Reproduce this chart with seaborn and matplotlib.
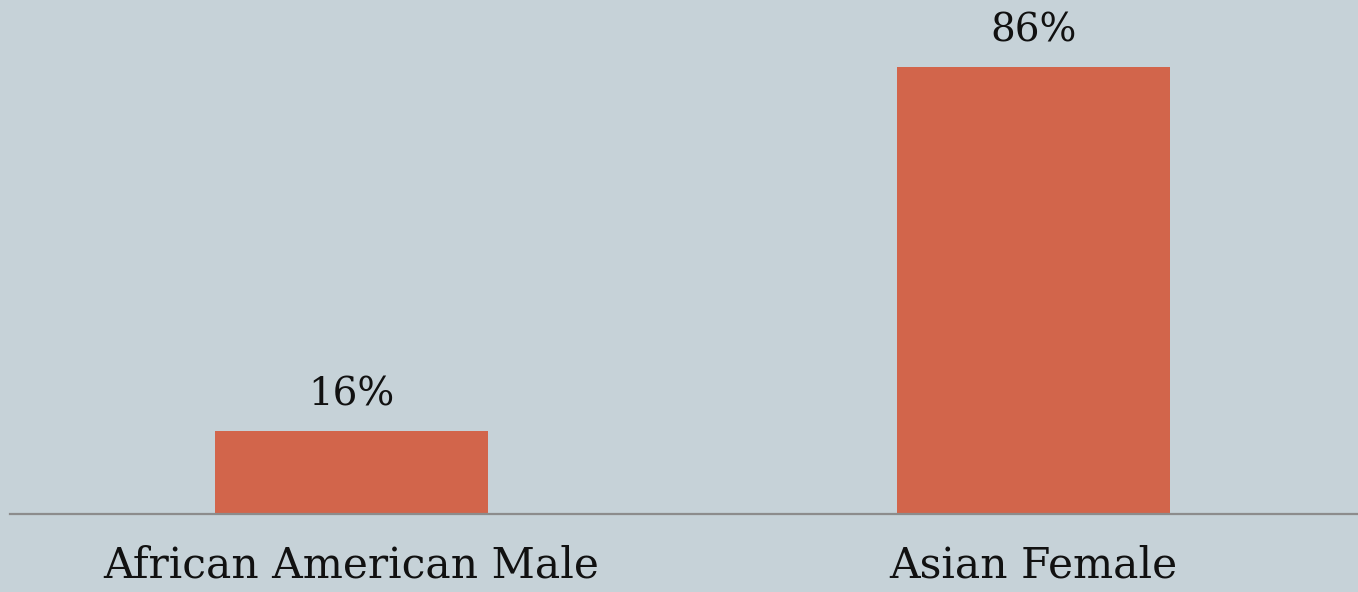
import matplotlib
matplotlib.use("Agg")
import matplotlib.pyplot as plt
import seaborn as sns
import pandas as pd

# data
groups = ["African American Male", "Asian Female"]
values = [16, 86]
value_labels = ["16%", "86%"]

BG = "#C6D2D8"
BAR = "#D2654B"

sns.set_theme(style="white")
plt.rcParams["font.family"] = ["DejaVu Serif"]

df = pd.DataFrame({"group": groups, "value": values})

fig = plt.figure(figsize=(13.58, 5.92), dpi=100, facecolor=BG)
ax = fig.add_axes([10 / 1358, 1 - 514 / 592, 1348 / 1358, 514 / 592])
ax.set_facecolor(BG)

sns.barplot(data=df, x="group", y="value", color=BAR, width=0.4,
            saturation=1, linewidth=0, ax=ax)

ax.set_xlim(-0.5007, 1.4758)
ax.set_ylim(0, 98.8)

# value labels above bars
for i, (v, lab) in enumerate(zip(values, value_labels)):
    ax.annotate(lab, (i, v), xytext=(0, 17), textcoords="offset pixels",
                ha="center", va="bottom", fontsize=28, color="#111111")

for s in ["top", "right", "left"]:
    ax.spines[s].set_visible(False)
ax.spines["bottom"].set_color("#8C8C8C")
ax.spines["bottom"].set_linewidth(1.6)
ax.set_yticks([])
ax.set_xlabel("")
ax.set_ylabel("")
ax.tick_params(axis="x", length=0, pad=22, labelsize=30.5, labelcolor="#111111")

fig.savefig("out.png", dpi=100, facecolor=BG)
